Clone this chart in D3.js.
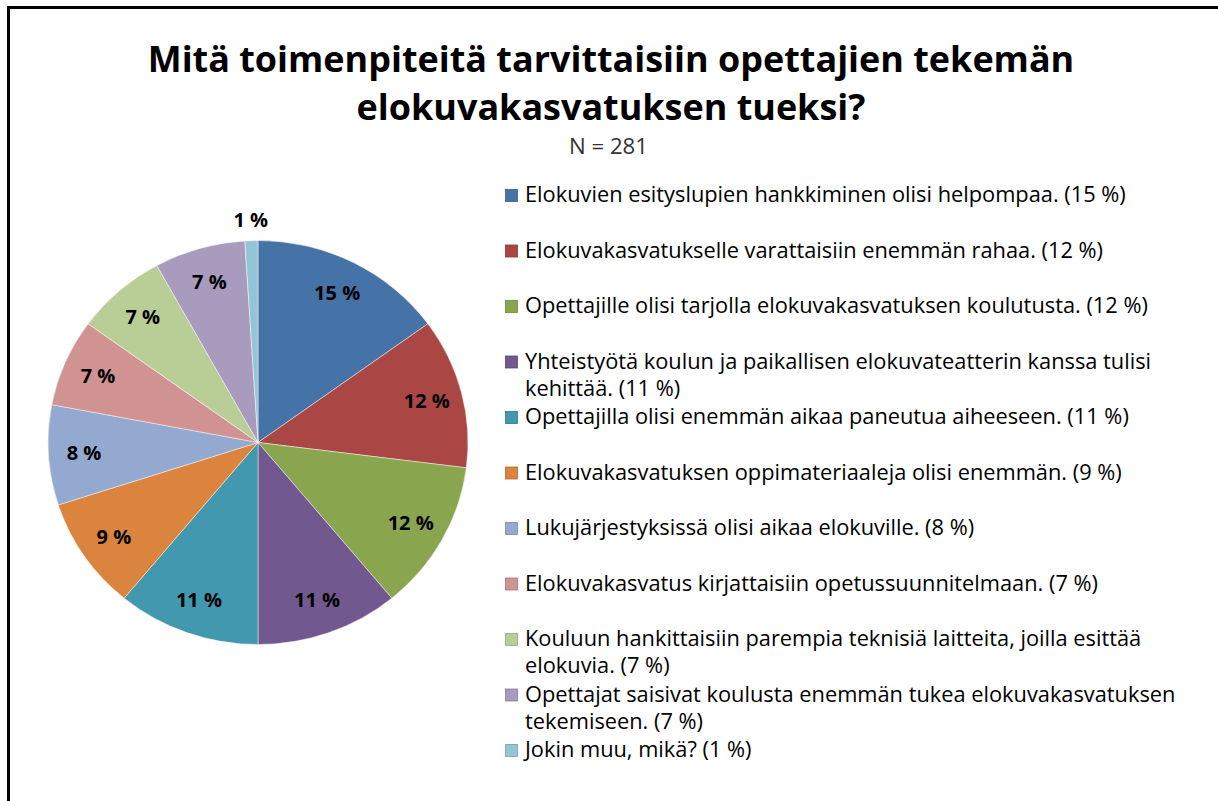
<!DOCTYPE html>
<html>
<head>
<meta charset="utf-8">
<script src="https://cdn.jsdelivr.net/npm/d3@7"></script>
<style>
  html, body { margin: 0; padding: 0; background: #fff; }
  svg { display: block; }
</style>
</head>
<body>
<svg id="chart" width="1218" height="801"></svg>
<script>
// ---- data ----
const titleLines = ["Mitä toimenpiteitä tarvittaisiin opettajien tekemän", "elokuvakasvatuksen tueksi?"];
const subtitle = "N = 281";
const values = [15, 12, 12, 11, 11, 9, 8, 7, 7, 7, 1];
const categories = [
  ["Elokuvien esityslupien hankkiminen olisi helpompaa."],
  ["Elokuvakasvatukselle varattaisiin enemmän rahaa."],
  ["Opettajille olisi tarjolla elokuvakasvatuksen koulutusta."],
  ["Yhteistyötä koulun ja paikallisen elokuvateatterin kanssa tulisi", "kehittää."],
  ["Opettajilla olisi enemmän aikaa paneutua aiheeseen."],
  ["Elokuvakasvatuksen oppimateriaaleja olisi enemmän."],
  ["Lukujärjestyksissä olisi aikaa elokuville."],
  ["Elokuvakasvatus kirjattaisiin opetussuunnitelmaan."],
  ["Kouluun hankittaisiin parempia teknisiä laitteita, joilla esittää", "elokuvia."],
  ["Opettajat saisivat koulusta enemmän tukea elokuvakasvatuksen", "tekemiseen."],
  ["Jokin muu, mikä?"]
];
const colors = ["#4572A7", "#AA4643", "#89A54E", "#71588F", "#4198AF", "#DB843D",
                "#93A9CF", "#D19392", "#B9CD96", "#A99BBD", "#92C5D6"];

// ---- drawing ----
const svg = d3.select("#chart");
const FONT = "'Open Sans', 'Noto Sans', sans-serif";

// frame (left + top edges)
svg.append("line").attr("x1", 8.5).attr("x2", 8.5).attr("y1", 6).attr("y2", 801)
  .attr("stroke", "#000").attr("stroke-width", 3);
svg.append("line").attr("x1", 7).attr("x2", 1218).attr("y1", 7.5).attr("y2", 7.5)
  .attr("stroke", "#000").attr("stroke-width", 3);

// fit helper
function fitSize(textSel, targetWidth, startSize) {
  textSel.attr("font-size", startSize);
  const w = textSel.node().getComputedTextLength();
  return startSize * targetWidth / w;
}

// title
const t1 = svg.append("text").attr("x", 611).attr("y", 72)
  .attr("text-anchor", "middle").attr("font-family", FONT).attr("font-weight", "bold")
  .attr("fill", "#000").text(titleLines[0]);
const titleSize = fitSize(t1, 927, 36);
t1.attr("font-size", titleSize);
svg.append("text").attr("x", 611).attr("y", 120)
  .attr("text-anchor", "middle").attr("font-family", FONT).attr("font-weight", "bold")
  .attr("font-size", titleSize).attr("fill", "#000").text(titleLines[1]);

// subtitle
const st = svg.append("text").attr("x", 569).attr("y", 154)
  .attr("font-family", FONT).attr("fill", "#333").text(subtitle);
st.attr("font-size", fitSize(st, 79, 20));

// pie
const cx = 258, cy = 442.5, R = 210, sy = 202 / 210;
const pie = d3.pie().sort(null).value(d => d)(values);
const arc = d3.arc().innerRadius(0).outerRadius(R);
const pieG = svg.append("g").attr("transform", `translate(${cx},${cy}) scale(1,${sy})`);
pieG.selectAll("path").data(pie).join("path")
  .attr("d", arc)
  .attr("fill", (d, i) => colors[i])
  .attr("stroke", "rgba(255,255,255,0.6)")
  .attr("stroke-width", 0.8);

// pie labels
const labelG = svg.append("g").attr("transform", `translate(${cx},${cy})`);
const inner = d3.arc().innerRadius(R * 0.83).outerRadius(R * 0.83);
const outer = d3.arc().innerRadius(R * 1.1).outerRadius(R * 1.1);
labelG.selectAll("text").data(pie).join("text")
  .attr("x", d => (values[d.index] < 3 ? outer : inner).centroid(d)[0])
  .attr("y", d => (values[d.index] < 3 ? outer : inner).centroid(d)[1] * sy)
  .attr("dy", "0.35em")
  .attr("text-anchor", "middle")
  .attr("font-family", FONT).attr("font-weight", "bold").attr("font-size", 20)
  .attr("fill", "#000")
  .text(d => d.data + " %");

// legend
const legG = svg.append("g");
const rowY = d3.scaleLinear().domain([0, values.length - 1]).range([196, 751]);
let legendSize = 17;
{
  const probe = legG.append("text").attr("font-family", FONT)
    .text(categories[0][0] + " (" + values[0] + " %)");
  legendSize = fitSize(probe, 601, 17);
  probe.remove();
}
categories.forEach((lines, i) => {
  const y = rowY(i);
  legG.append("rect").attr("x", 505.5).attr("y", y - 6.5).attr("width", 12).attr("height", 12)
    .attr("fill", colors[i]).attr("stroke", d3.color(colors[i]).darker(0.6)).attr("stroke-width", 0.8);
  const t = legG.append("text").attr("x", 525).attr("y", y + 6)
    .attr("font-family", FONT).attr("font-size", legendSize).attr("fill", "#000");
  lines.forEach((ln, j) => {
    const txt = j === lines.length - 1 ? ln + " (" + values[i] + " %)" : ln;
    t.append("tspan").attr("x", 525).attr("dy", j === 0 ? 0 : 27).text(txt);
  });
});
</script>
</body>
</html>
